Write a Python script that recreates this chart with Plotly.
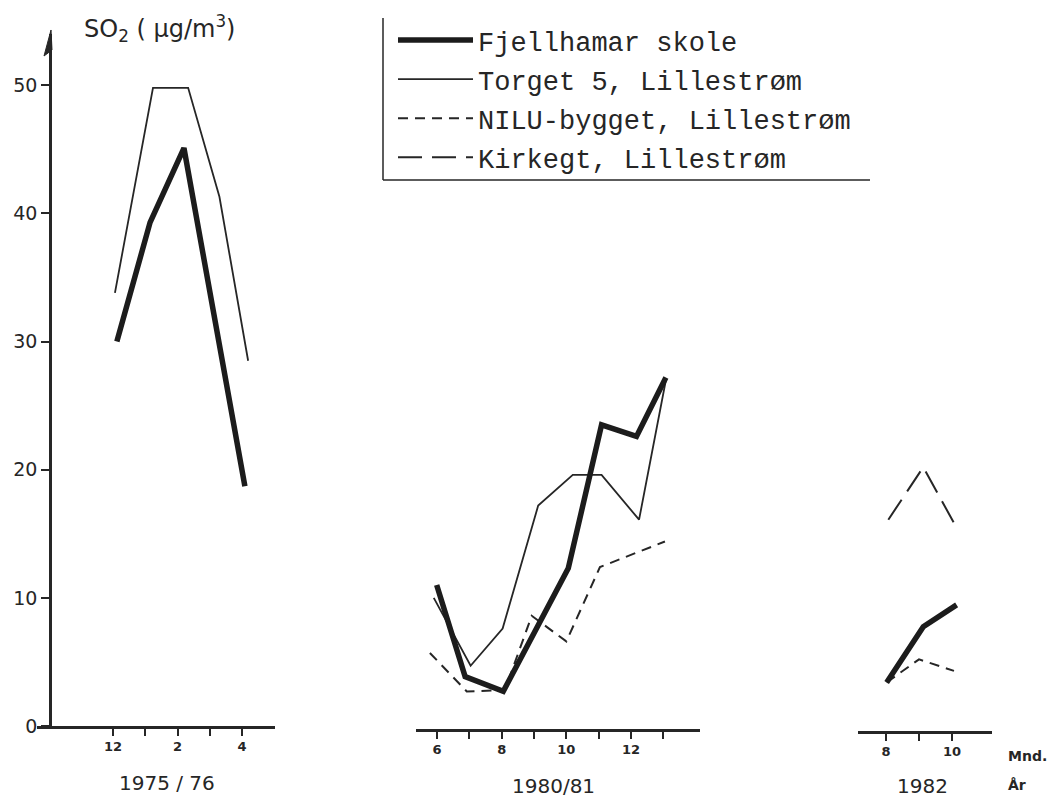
import plotly.graph_objects as go

W, H = 1054, 798

# ---------------- data (months, SO2 µg/m3) ----------------
series_names = ["Fjellhamar skole", "Torget 5, Lillestrøm",
                "NILU-bygget, Lillestrøm", "Kirkegt, Lillestrøm"]

# Panel 1: 1975/76 (month 12 = Dec, 13 = Jan, 14 = Feb ...)
p1_fjell_x = [12.12, 13.15, 14.2, 16.09]
p1_fjell_y = [30.0, 39.3, 45.1, 18.7]
p1_torget_x = [12.06, 13.24, 14.33, 15.3, 16.19]
p1_torget_y = [33.8, 49.8, 49.8, 41.3, 28.5]
p1_tickvals = [12, 14, 16]
p1_ticktext = ["12", "2", "4"]
p1_minor = [12, 13, 14, 15, 16]

# Panel 2: 1980/81
p2_fjell_x = [5.99, 6.87, 8.05, 10.06, 11.09, 12.17, 13.08]
p2_fjell_y = [11.0, 3.85, 2.7, 12.3, 23.5, 22.6, 27.2]
p2_torget_x = [5.9, 7.04, 8.03, 9.13, 10.2, 11.09, 12.25, 13.08]
p2_torget_y = [10.0, 4.7, 7.6, 17.2, 19.6, 19.6, 16.1, 27.0]
p2_nilu_x = [5.78, 6.92, 8.1, 8.93, 10.0, 11.04, 13.05]
p2_nilu_y = [5.7, 2.7, 2.8, 8.6, 6.6, 12.4, 14.4]
p2_tickvals = [6, 8, 10, 12]
p2_ticktext = ["6", "8", "10", "12"]
p2_minor = [6, 7, 8, 9, 10, 11, 12, 13]

# Panel 3: 1982
p3_fjell_x = [8.02, 9.13, 10.14]
p3_fjell_y = [3.4, 7.75, 9.45]
p3_nilu_x = [8.02, 9.0, 10.06]
p3_nilu_y = [3.4, 5.2, 4.3]
p3_kirke_x = [8.07, 9.13, 10.09]
p3_kirke_y = [16.1, 20.2, 15.7]
p3_tickvals = [8, 10]
p3_ticktext = ["8", "10"]
p3_minor = [8, 9, 10]

y_tickvals = [0, 10, 20, 30, 40, 50]
panel_labels = ["1975 / 76", "1980/81", "1982"]

# ---------------- styles ----------------
INK = "#262626"
styles = {
    series_names[0]: dict(color="#1c1c1c", width=5.5, dash="solid"),
    series_names[1]: dict(color=INK, width=1.8, dash="solid"),
    series_names[2]: dict(color=INK, width=2, dash="10px,7px"),
    series_names[3]: dict(color=INK, width=2, dash="24px,10px"),
}


def px_x(p):
    return p / W


def px_y(p):
    return (H - p) / H


fig = go.Figure()
shown = set()


def add(name, xs, ys, xaxis):
    rank = series_names.index(name)
    fig.add_trace(go.Scatter(
        x=xs, y=ys, mode="lines", name=name, xaxis=xaxis, yaxis="y",
        line=styles[name], legendgroup=name, legendrank=rank + 1,
        showlegend=name not in shown, hoverinfo="skip"))
    shown.add(name)


add(series_names[0], p1_fjell_x, p1_fjell_y, "x")
add(series_names[1], p1_torget_x, p1_torget_y, "x")
add(series_names[1], p2_torget_x, p2_torget_y, "x2")
add(series_names[2], p2_nilu_x, p2_nilu_y, "x2")
add(series_names[0], p2_fjell_x, p2_fjell_y, "x2")
add(series_names[3], p3_kirke_x, p3_kirke_y, "x3")
add(series_names[2], p3_nilu_x, p3_nilu_y, "x3")
add(series_names[0], p3_fjell_x, p3_fjell_y, "x3")

tickfont = dict(family="DejaVu Sans", size=13, color=INK, weight="bold")


def xcommon(minor_vals):
    return dict(showline=True, linecolor=INK, linewidth=2.5, ticks="outside",
                ticklen=7, tickwidth=2, tickcolor=INK, showgrid=False,
                zeroline=False, anchor="free", tickfont=tickfont,
                fixedrange=True, automargin=False,
                minor=dict(tickvals=minor_vals, ticks="outside", ticklen=7,
                           tickwidth=2, tickcolor=INK, showgrid=False))


fig.update_layout(
    template="none",
    width=W, height=H, margin=dict(l=0, r=0, t=0, b=0, autoexpand=False),
    paper_bgcolor="white", plot_bgcolor="rgba(0,0,0,0)",
    showlegend=True,
    xaxis=dict(domain=[px_x(37), px_x(275)],
               range=[12 - 76 / 32.25, 12 + 162 / 32.25],
               tickvals=p1_tickvals, ticktext=p1_ticktext,
               position=px_y(727), **xcommon(p1_minor)),
    xaxis2=dict(domain=[px_x(416), px_x(700)],
                range=[6 - 21 / 32.33, 6 + 263 / 32.33],
                tickvals=p2_tickvals, ticktext=p2_ticktext,
                position=px_y(730), **xcommon(p2_minor)),
    xaxis3=dict(domain=[px_x(858), px_x(992)],
                range=[8 - 28 / 33.0, 8 + 106 / 33.0],
                tickvals=p3_tickvals, ticktext=p3_ticktext,
                position=px_y(732), **xcommon(p3_minor)),
    yaxis=dict(domain=[px_y(726), px_y(34)], range=[0, 54],
               anchor="free", position=px_x(50), automargin=False,
               showline=True, linecolor=INK, linewidth=2.5,
               ticks="outside", ticklen=8, tickwidth=2, tickcolor=INK,
               tickvals=y_tickvals, showgrid=False, zeroline=False,
               tickfont=dict(family="DejaVu Sans", size=19, color=INK),
               fixedrange=True),
    legend=dict(x=px_x(393), y=px_y(16), xanchor="left", yanchor="top",
                bgcolor="rgba(0,0,0,0)", borderwidth=0,
                font=dict(family="Liberation Mono", size=27, color=INK),
                itemwidth=75, traceorder="grouped", tracegroupgap=1,
                itemclick=False, itemdoubleclick=False),
)

# legend frame (left and bottom rules)
fig.add_shape(type="line", xref="paper", yref="paper",
              x0=px_x(383), x1=px_x(383), y0=px_y(18), y1=px_y(180),
              line=dict(color=INK, width=1.5))
fig.add_shape(type="line", xref="paper", yref="paper",
              x0=px_x(383), x1=px_x(870), y0=px_y(180), y1=px_y(180),
              line=dict(color=INK, width=1.5))

# arrow head at top of y axis
fig.add_shape(type="path", xref="paper", yref="paper",
              path="M {:.5f},{:.5f} L {:.5f},{:.5f} L {:.5f},{:.5f} Z".format(
                  px_x(51), px_y(30), px_x(44), px_y(56), px_x(52), px_y(50)),
              fillcolor=INK, line=dict(color=INK, width=1))

# y-axis title
fig.add_annotation(x=px_x(82), y=px_y(28), xref="paper", yref="paper",
                   xanchor="left", yanchor="middle", showarrow=False,
                   text="SO<sub>2</sub> ( µg/m<sup>3</sup>)",
                   font=dict(family="DejaVu Sans", size=24, color=INK))

# panel (year) labels
for label, cx, cy in zip(panel_labels, [167, 553, 922], [783, 786, 786]):
    fig.add_annotation(x=px_x(cx), y=px_y(cy), xref="paper", yref="paper",
                       xanchor="center", yanchor="middle", showarrow=False,
                       text=label,
                       font=dict(family="DejaVu Sans", size=20, color=INK))

fig.add_annotation(x=px_x(1006), y=px_y(756), xref="paper", yref="paper",
                   xanchor="left", yanchor="middle", showarrow=False,
                   text="<b>Mnd.</b>",
                   font=dict(family="DejaVu Sans", size=14, color=INK))
fig.add_annotation(x=px_x(1006), y=px_y(785), xref="paper", yref="paper",
                   xanchor="left", yanchor="middle", showarrow=False,
                   text="<b>År</b>",
                   font=dict(family="DejaVu Sans", size=14, color=INK))

# remove the browser's default 8px body margin so the figure fills the window
fig.write_html("out.html",
               config={"displayModeBar": False, "staticPlot": False},
               post_script="document.body.style.margin='0';"
                           "document.body.style.overflow='hidden';")
